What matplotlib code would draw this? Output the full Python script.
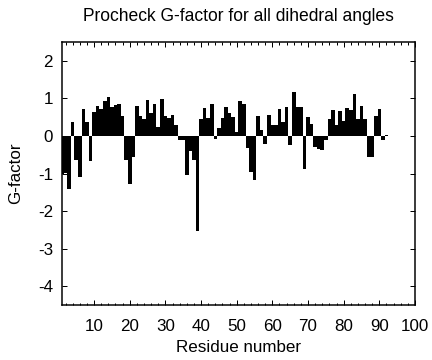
import numpy as np
import matplotlib
matplotlib.use('Agg')
import matplotlib.pyplot as plt
from matplotlib.ticker import MultipleLocator

plt.rcParams['font.family'] = ['Liberation Sans', 'DejaVu Sans']
plt.rcParams['axes.unicode_minus'] = False

# G-factor per residue
residues = np.arange(1, 93)
gfactor = [
    -1.0, -0.98, -1.42, 0.36, -0.63, -1.1, 0.72, 0.38, -0.66, 0.63,
    0.8, 0.71, 0.93, 1.03, 0.78, 0.83, 0.86, 0.54, -0.63, -1.27,
    -0.55, 0.8, 0.52, 0.44, 0.96, 0.62, 0.85, 0.25, 0.98, 0.52,
    0.48, 0.56, 0.28, -0.1, -0.1, -1.03, -0.4, -0.63, -2.53, 0.44,
    0.75, 0.49, 0.86, -0.08, 0.2, 0.49, 0.77, 0.6, 0.51, 0.11,
    0.93, 0.86, -0.33, -0.96, -1.18, 0.53, 0.15, -0.22, 0.57, 0.28,
    0.3, 0.72, 0.38, 0.77, -0.25, 1.18, 0.77, 0.77, -0.87, 0.51,
    0.31, -0.3, -0.35, -0.37, -0.1, 0.44, 0.68, 0.28, 0.67, 0.41,
    0.74, 0.69, 1.11, 0.46, 0.8, 0.44, -0.57, -0.55, 0.54, 0.72,
    -0.1, 0.03,
]

fig = plt.figure(figsize=(6, 5), dpi=72)
ax = fig.add_axes([0.1435, 0.1528, 0.817, 0.7305])

ax.bar(residues, gfactor, width=1.0, color='black', linewidth=0)

ax.set_xlim(1, 100)
ax.set_ylim(-4.5, 2.5)
ax.xaxis.set_major_locator(MultipleLocator(10))
ax.xaxis.set_minor_locator(MultipleLocator(2))
ax.yaxis.set_major_locator(MultipleLocator(1))
ax.tick_params(which='both', direction='in', top=True, right=True,
               labelsize=17, width=1)
ax.tick_params(axis='x', pad=14)
ax.tick_params(axis='y', pad=9)
ax.tick_params(which='major', length=5)
ax.tick_params(which='minor', length=2.5)
for s in ax.spines.values():
    s.set_linewidth(1.5)

ax.set_xlabel('Residue number', fontsize=17, labelpad=6)
ax.set_ylabel('G-factor', fontsize=17, labelpad=15)
ax.set_title('Procheck G-factor for all dihedral angles', fontsize=17.5, pad=21)

fig.savefig('out.png', dpi=72)
